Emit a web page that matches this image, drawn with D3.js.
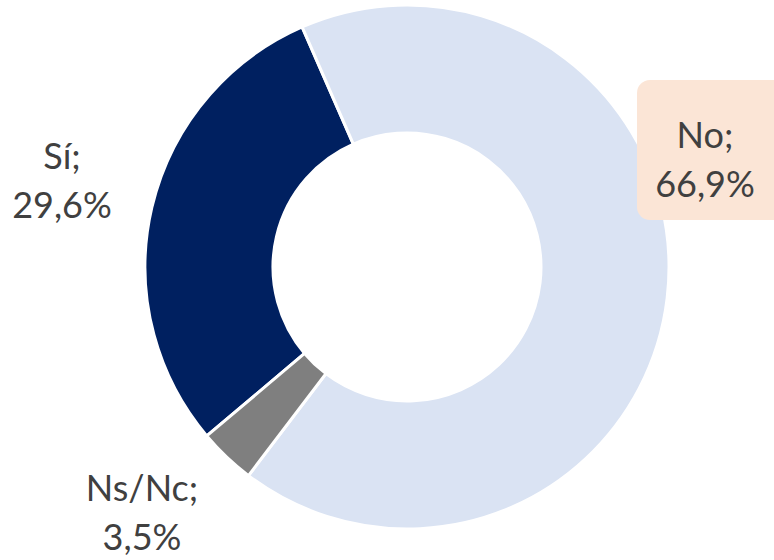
<!DOCTYPE html>
<html>
<head>
<meta charset="utf-8">
<script src="https://cdn.jsdelivr.net/npm/d3@7"></script>
<style>
  body { margin: 0; background: #fff; }
  svg { display: block; }
</style>
</head>
<body>
<svg id="chart" width="774" height="560"></svg>
<script>
  // data
  var categories = ["Sí", "No", "Ns/Nc"];
  var values = [29.6, 66.9, 3.5];
  var labels = ["29,6%", "66,9%", "3,5%"];

  var colors = ["#002060", "#dae3f3", "#7f7f7f"];

  var svg = d3.select("#chart"),
    cx = 407,
    cy = 267,
    outerR = 262,
    innerR = 134;

  // No/Sí boundary sits ~23.6deg left of 12 o'clock
  var start = (-23.6 - values[0] * 3.6) * Math.PI / 180;

  var pie = d3.pie()
      .sort(null)
      .value(function(d) { return d; })
      .startAngle(start)
      .endAngle(start + 2 * Math.PI);

  var arc = d3.arc()
      .innerRadius(innerR)
      .outerRadius(outerR);

  var g = svg.append("g")
      .attr("transform", "translate(" + cx + "," + cy + ")");

  g.selectAll("path")
    .data(pie(values))
    .enter().append("path")
      .attr("d", arc)
      .attr("fill", function(d, i) { return colors[i]; })
      .attr("stroke", "#fff")
      .attr("stroke-width", 3)
      .attr("stroke-linejoin", "miter");

  // label placement (centre of two-line label)
  var labelPos = {
    "Sí": [62, 182],
    "No": [705, 161],
    "Ns/Nc": [142, 514]
  };

  // box behind the "No" label
  svg.append("rect")
      .attr("x", 637)
      .attr("y", 80)
      .attr("width", 150)
      .attr("height", 140)
      .attr("rx", 13)
      .attr("fill", "#fbe5d6");

  var lab = svg.append("g")
      .attr("font-family", "Lato, 'Open Sans', sans-serif")
      .attr("font-size", 36)
      .attr("fill", "#404040")
      .attr("text-anchor", "middle");

  categories.forEach(function(c, i) {
    var p = labelPos[c];
    var t = lab.append("text")
        .attr("x", p[0])
        .attr("y", p[1] - 13);
    t.append("tspan")
        .attr("x", p[0])
        .text(c + ";");
    t.append("tspan")
        .attr("x", p[0])
        .attr("dy", 49)
        .text(labels[i]);
  });
</script>
</body>
</html>
